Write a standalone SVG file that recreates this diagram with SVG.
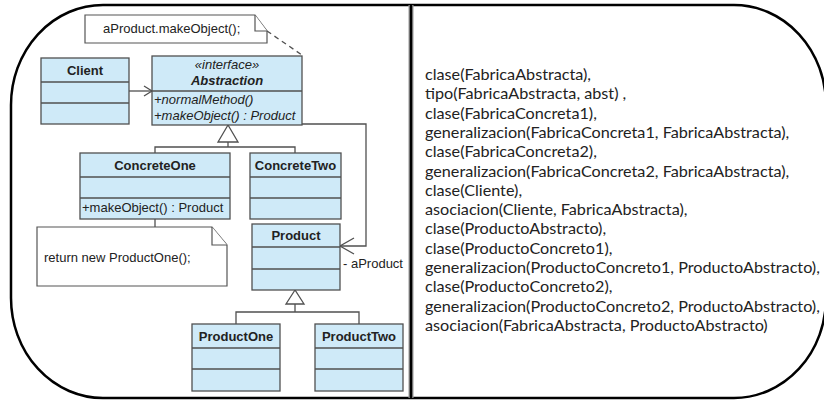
<svg xmlns="http://www.w3.org/2000/svg" width="824" height="401" viewBox="0 0 824 401">
<style>
.cls{fill:#cfeaf8;stroke:#505050;stroke-width:1.3}
.div{stroke:#505050;stroke-width:1.3}
.note{fill:#fff;stroke:#555;stroke-width:1.2}
.ln{fill:none;stroke:#505050;stroke-width:1.3}
.t{font-family:"Liberation Sans",Arial,sans-serif;font-size:13px;fill:#222}
.b{font-weight:bold;text-anchor:middle}
.i{font-style:italic}
.r{font-family:Lato,"Liberation Sans",sans-serif;font-size:16.2px;fill:#222}
</style>
<rect x="0" y="0" width="824" height="401" fill="#fff"/>
<rect x="11" y="5" width="815" height="393" rx="92" ry="100" fill="#fff" stroke="#000" stroke-width="2.5"/>
<line x1="411" y1="5" x2="411" y2="398" stroke="#999" stroke-width="5"/>
<line x1="411" y1="5" x2="411" y2="398" stroke="#000" stroke-width="2.5"/>

<g id="connectors">
<line class="ln" x1="129" y1="91" x2="152" y2="91"/>
<polyline class="ln" points="144,86 152,91 144,96"/>
<polyline class="ln" points="302,124 366,124 366,246 340,246"/>
<polyline class="ln" points="354,238 340,246 354,254"/>
<line class="ln" x1="267" y1="31" x2="302" y2="55" stroke-dasharray="5,4"/>
<polygon points="228,125 218,142 238,142" fill="#fff" stroke="#505050" stroke-width="1.3"/>
<polyline class="ln" points="228,142 228,147"/>
<polyline class="ln" points="155,153 155,147 295,147 295,153"/>
<line class="ln" x1="155" y1="219" x2="155" y2="227"/>
<polygon points="295,290 286,304 304,304" fill="#fff" stroke="#505050" stroke-width="1.3"/>
<polyline class="ln" points="295,304 295,312"/>
<polyline class="ln" points="236,324 236,312 359,312 359,324"/>
</g>

<g id="note1">
<path class="note" d="M85,15 H255 L267,31 V43 H85 Z"/>
<path class="note" d="M255,15 V31 H267" fill="none"/>
<text class="t" x="103" y="33">aProduct.makeObject();</text>
</g>

<g id="client">
<rect class="cls" x="41" y="58" width="88" height="66"/>
<line class="div" x1="41" y1="82" x2="129" y2="82"/>
<line class="div" x1="41" y1="103" x2="129" y2="103"/>
<text class="t b" x="85" y="75">Client</text>
</g>

<g id="abstraction">
<rect class="cls" x="152" y="56" width="150" height="69"/>
<line class="div" x1="152" y1="91" x2="302" y2="91"/>
<text class="t i" x="227" y="69" text-anchor="middle">«interface»</text>
<text class="t b i" x="227" y="85">Abstraction</text>
<text class="t i" x="154" y="104">+normalMethod()</text>
<text class="t i" x="154" y="120">+makeObject() : Product</text>
</g>

<g id="concreteOne">
<rect class="cls" x="80" y="153" width="150" height="66"/>
<line class="div" x1="80" y1="177" x2="230" y2="177"/>
<line class="div" x1="80" y1="198" x2="230" y2="198"/>
<text class="t b" x="155" y="170">ConcreteOne</text>
<text class="t" x="82" y="212">+makeObject() : Product</text>
</g>

<g id="concreteTwo">
<rect class="cls" x="250" y="153" width="91" height="66"/>
<line class="div" x1="250" y1="177" x2="341" y2="177"/>
<line class="div" x1="250" y1="198" x2="341" y2="198"/>
<text class="t b" x="295.5" y="170">ConcreteTwo</text>
</g>

<g id="note2">
<path class="note" d="M37,227 H212 L227,245 V286 H37 Z"/>
<path class="note" d="M212,227 V245 H227" fill="none"/>
<text class="t" x="44" y="262">return new ProductOne();</text>
</g>

<g id="product">
<rect class="cls" x="252" y="224" width="88" height="66"/>
<line class="div" x1="252" y1="247" x2="340" y2="247"/>
<line class="div" x1="252" y1="269" x2="340" y2="269"/>
<text class="t b" x="296" y="240">Product</text>
<text class="t" x="343" y="268">- aProduct</text>
</g>

<g id="productOne">
<rect class="cls" x="192" y="324" width="88" height="67"/>
<line class="div" x1="192" y1="348" x2="280" y2="348"/>
<line class="div" x1="192" y1="369" x2="280" y2="369"/>
<text class="t b" x="236" y="341">ProductOne</text>
</g>

<g id="productTwo">
<rect class="cls" x="315" y="324" width="88" height="67"/>
<line class="div" x1="315" y1="348" x2="403" y2="348"/>
<line class="div" x1="315" y1="369" x2="403" y2="369"/>
<text class="t b" x="359" y="341">ProductTwo</text>
</g>

<g id="facts">
<text class="r" x="425" y="80">clase(FabricaAbstracta),</text>
<text class="r" x="425" y="99.3">tipo(FabricaAbstracta, abst) ,</text>
<text class="r" x="425" y="118.6">clase(FabricaConcreta1),</text>
<text class="r" x="425" y="137.9">generalizacion(FabricaConcreta1, FabricaAbstracta),</text>
<text class="r" x="425" y="157.2">clase(FabricaConcreta2),</text>
<text class="r" x="425" y="176.5">generalizacion(FabricaConcreta2, FabricaAbstracta),</text>
<text class="r" x="425" y="195.8">clase(Cliente),</text>
<text class="r" x="425" y="215.1">asociacion(Cliente, FabricaAbstracta),</text>
<text class="r" x="425" y="234.4">clase(ProductoAbstracto),</text>
<text class="r" x="425" y="253.7">clase(ProductoConcreto1),</text>
<text class="r" x="425" y="273">generalizacion(ProductoConcreto1, ProductoAbstracto),</text>
<text class="r" x="425" y="292.3">clase(ProductoConcreto2),</text>
<text class="r" x="425" y="311.6">generalizacion(ProductoConcreto2, ProductoAbstracto),</text>
<text class="r" x="425" y="330.9">asociacion(FabricaAbstracta, ProductoAbstracto)</text>
</g>
</svg>
